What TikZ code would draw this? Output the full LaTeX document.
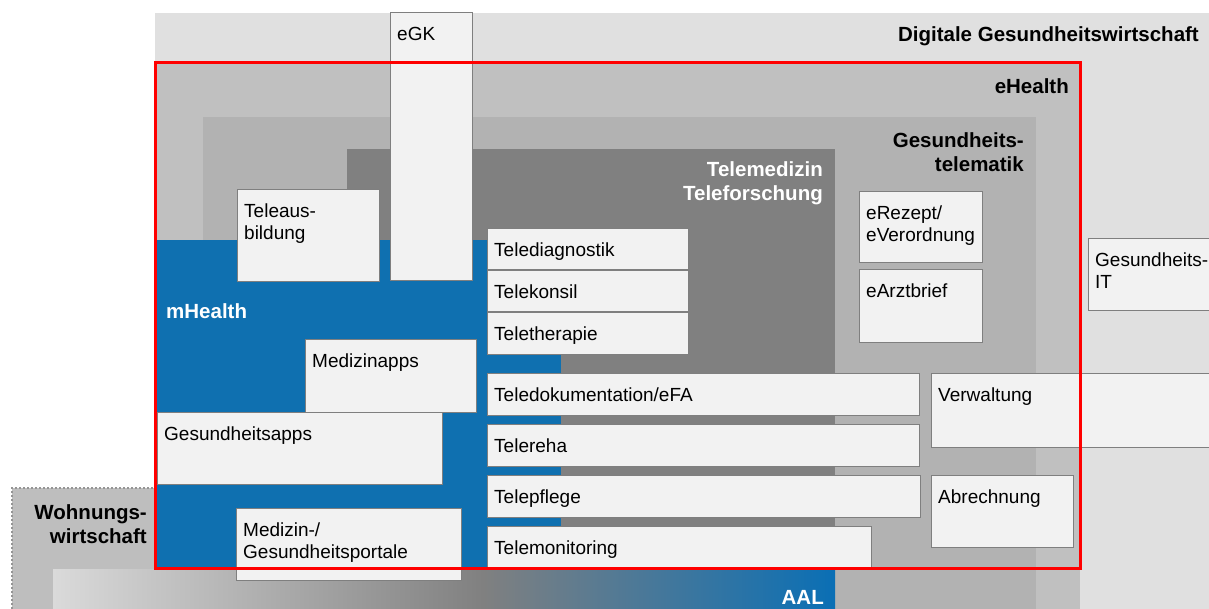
\documentclass[tikz,border=0pt]{standalone}
\usepackage{fontspec}
\setmainfont{Liberation Sans}
\definecolor{dgw}{HTML}{E0E0E0}
\definecolor{ehealth}{HTML}{C0C0C0}
\definecolor{telematik}{HTML}{B2B2B2}
\definecolor{telemed}{HTML}{808080}
\definecolor{mblue}{HTML}{0F70B0}
\definecolor{boxfill}{HTML}{F2F2F2}
\definecolor{boxline}{HTML}{7F7F7F}
\definecolor{wohn}{HTML}{BEBEBE}
\definecolor{wohnline}{HTML}{959595}
\definecolor{aalL}{HTML}{DADADA}
\definecolor{aalM}{HTML}{808080}
\definecolor{aalR}{HTML}{0A6FB5}
% the path's box is mapped onto the middle half (25bp..75bp) of the shading
\pgfdeclarehorizontalshading{aalshade}{100bp}{color(0bp)=(aalL); color(25bp)=(aalL); color(52.5bp)=(aalM); color(75bp)=(aalR); color(100bp)=(aalR)}
\tikzset{
  itembox/.style={draw=boxline, fill=boxfill, line width=1pt, inner sep=0pt, outer sep=0pt, anchor=north west},
  itemtext/.style={font=\fontsize{19}{22}\selectfont, align=left, inner sep=0pt, anchor=base west},
  layertext/.style={font=\fontsize{20.5}{24}\selectfont\bfseries, align=right, inner sep=0pt, anchor=base east},
  whitetext/.style={layertext, text=white},
}
% one item box: name, left, top, right, bottom, label;
% the label's last line sits at the given drop below the top edge
\newcommand\placeitem[7]{%
  \node[itembox, minimum width={#4-#2}, minimum height={#5-#3}] (#1) at (#2,#3) {};
  \node[itemtext] (#1-text) at ([xshift=7pt,yshift=-#7pt]#1.north west) {#6};
}
\newcommand\itembox[6]{\placeitem{#1}{#2}{#3}{#4}{#5}{#6}{28}}
\newcommand\itemboxtwo[6]{\placeitem{#1}{#2}{#3}{#4}{#5}{#6}{50}}
\begin{document}
\begin{tikzpicture}[x=1pt,y=-1pt]
\useasboundingbox (0,0) rectangle (1209,609);

% nested areas
\fill[dgw] (155,13) rectangle (1209,609);
\fill[ehealth] (155,63) rectangle (1080,609);
\fill[telematik] (203,117) rectangle (1036,609);
\fill[telemed] (347,149) rectangle (835,609);

% housing sector, dotted outline
\fill[wohn] (12,488) rectangle (155,609);
\draw[wohnline, line width=2pt, dash pattern=on 2pt off 2pt] (12,609) -- (12,488) -- (155,488);

% AAL band
\shade[shading=aalshade] (53,569) rectangle (835,609);

% mHealth area
\fill[mblue] (155,240) rectangle (561,568);

% items
\itembox{egk}{390}{13}{472}{281}{eGK}
\itemboxtwo{teleaus}{237}{190}{379}{282}{Teleaus-\\bildung}
\itembox{telediag}{487}{229}{688}{270}{Telediagnostik}
\itembox{telekonsil}{487}{271}{688}{312}{Telekonsil}
\itembox{telether}{487}{313}{688}{354}{Teletherapie}
\itemboxtwo{erezept}{859}{192}{982}{263}{eRezept/\\eVerordnung}
\itembox{earzt}{859}{270}{982}{342}{eArztbrief}
\itemboxtwo{gesit}{1088}{239}{1216}{311}{Gesundheits-\\IT}
\itembox{medapps}{305}{339}{476}{412}{Medizinapps}
\itembox{teledok}{487}{373}{919}{415}{Teledokumentation/eFA}
\itembox{verwaltung}{931}{373}{1216}{447}{Verwaltung}
\itembox{gesapps}{157}{412}{442}{484}{Gesundheitsapps}
\itembox{telereha}{487}{424}{919}{466}{Telereha}
\itembox{telepflege}{487}{475}{920}{517}{Telepflege}
\itembox{abrechnung}{931}{475}{1073}{547}{Abrechnung}
\itemboxtwo{portale}{236}{508}{461}{580}{Medizin-/\\Gesundheitsportale}
\itembox{telemon}{487}{526}{871}{567}{Telemonitoring}

% eHealth frame
\draw[red, line width=3pt] (155,63) rectangle (1080,568);

% area labels (anchored at the baseline of the last line)
\node[layertext] (lbl-dgw) at (1199,42) {Digitale Gesundheitswirtschaft};
\node[layertext] (lbl-ehealth) at (1069,94) {eHealth};
\node[layertext] (lbl-telematik) at (1024,172) {Gesundheits-\\telematik};
\node[whitetext] (lbl-telemed) at (823,201) {Telemedizin\\Teleforschung};
\node[whitetext, anchor=base west] (lbl-mhealth) at (166,319) {mHealth};
\node[whitetext] (lbl-aal) at (824,604) {AAL};
\node[layertext] (lbl-wohn) at (147,543) {Wohnungs-\\wirtschaft};
\end{tikzpicture}
\end{document}
